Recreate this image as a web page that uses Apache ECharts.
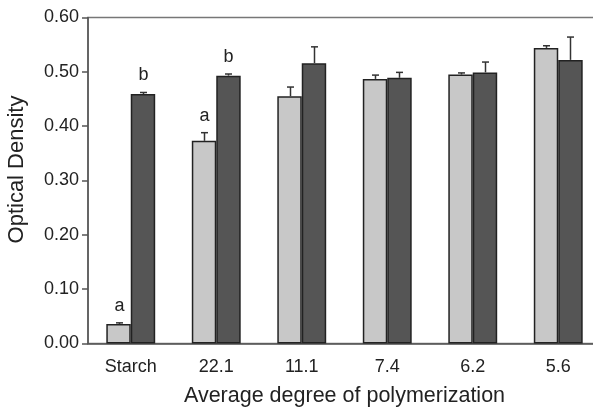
<!DOCTYPE html>
<html>
<head>
<meta charset="utf-8">
<script src="https://cdn.jsdelivr.net/npm/echarts@6/dist/echarts.min.js"></script>
<style>
  html, body { margin: 0; padding: 0; background: #fff; }
  #chart { width: 593px; height: 408px; }
</style>
</head>
<body>
<div id="chart"></div>
<script>
const categories = ['Starch', '22.1', '11.1', '7.4', '6.2', '5.6'];
const lightValues = [0.036, 0.373, 0.455, 0.487, 0.495, 0.544];
const lightErrors = [0.002, 0.015, 0.017, 0.007, 0.003, 0.004];
const lightLetters = ['a', 'a', '', '', '', ''];
const darkValues = [0.459, 0.493, 0.516, 0.489, 0.499, 0.522];
const darkErrors = [0.003, 0.003, 0.030, 0.010, 0.019, 0.042];
const darkLetters = ['b', 'b', '', '', '', ''];

const BAR_RATIO = 0.286;
const FONT = 'Liberation Sans, Arial, sans-serif';

function errorSeries(values, errors, letters, side) {
  return {
    type: 'custom',
    z: 5,
    data: values.map((v, i) => [i, v, errors[i]]),
    renderItem: (params, api) => {
      const idx = api.value(0);
      const top = api.coord([idx, api.value(1) + api.value(2)]);
      const base = api.coord([idx, api.value(1)]);
      const bw = api.size([1, 0])[0] * BAR_RATIO;
      const x = Math.round(top[0] + side * bw / 2) + 0.5;
      const children = [
        { type: 'line', shape: { x1: x, y1: base[1], x2: x, y2: top[1] },
          style: { stroke: '#333', lineWidth: 1.5 } },
        { type: 'line', shape: { x1: x - 3.5, y1: top[1], x2: x + 3.5, y2: top[1] },
          style: { stroke: '#333', lineWidth: 1.5 } }
      ];
      if (letters[idx]) {
        children.push({ type: 'text', x: x, y: top[1] - 8,
          style: { text: letters[idx], fill: '#222', font: '18px ' + FONT,
                   align: 'center', verticalAlign: 'bottom' } });
      }
      return { type: 'group', children: children };
    }
  };
}

const chart = echarts.init(document.getElementById('chart'));
chart.setOption({
  animation: false,
  grid: { left: 88, top: 17.5, width: 513, height: 326, show: true,
          outerBoundsMode: 'none', containLabel: false,
          borderColor: '#777', borderWidth: 1.5 },
  xAxis: {
    type: 'category',
    data: categories,
    name: 'Average degree of polymerization',
    nameLocation: 'middle',
    nameGap: 42,
    nameTextStyle: { fontSize: 21.5, color: '#222', fontFamily: FONT },
    axisLine: { lineStyle: { color: '#555', width: 1.5 } },
    axisTick: { show: false },
    axisLabel: { fontSize: 18, color: '#222', fontFamily: FONT, margin: 15 }
  },
  yAxis: {
    type: 'value',
    min: 0, max: 0.6, interval: 0.1,
    name: 'Optical Density',
    nameLocation: 'middle',
    nameGap: 60,
    nameTextStyle: { fontSize: 22, color: '#222', fontFamily: FONT, padding: [0, 0, 0, 22] },
    axisLine: { show: true, lineStyle: { color: '#555', width: 1.5 } },
    axisTick: { show: true, length: 6, lineStyle: { color: '#555', width: 1.5 } },
    splitLine: { show: false },
    axisLabel: { fontSize: 18, color: '#222', fontFamily: FONT, margin: 9,
                 formatter: v => v.toFixed(2) }
  },
  series: [
    { type: 'bar', data: lightValues, barWidth: (BAR_RATIO * 100) + '%', barGap: '0%',
      itemStyle: { color: '#c8c8c8', borderColor: '#222', borderWidth: 1.5 } },
    { type: 'bar', data: darkValues, barWidth: (BAR_RATIO * 100) + '%', barGap: '0%',
      itemStyle: { color: '#555555', borderColor: '#222', borderWidth: 1.5 } },
    errorSeries(lightValues, lightErrors, lightLetters, -1),
    errorSeries(darkValues, darkErrors, darkLetters, 1)
  ]
});
</script>
</body>
</html>
